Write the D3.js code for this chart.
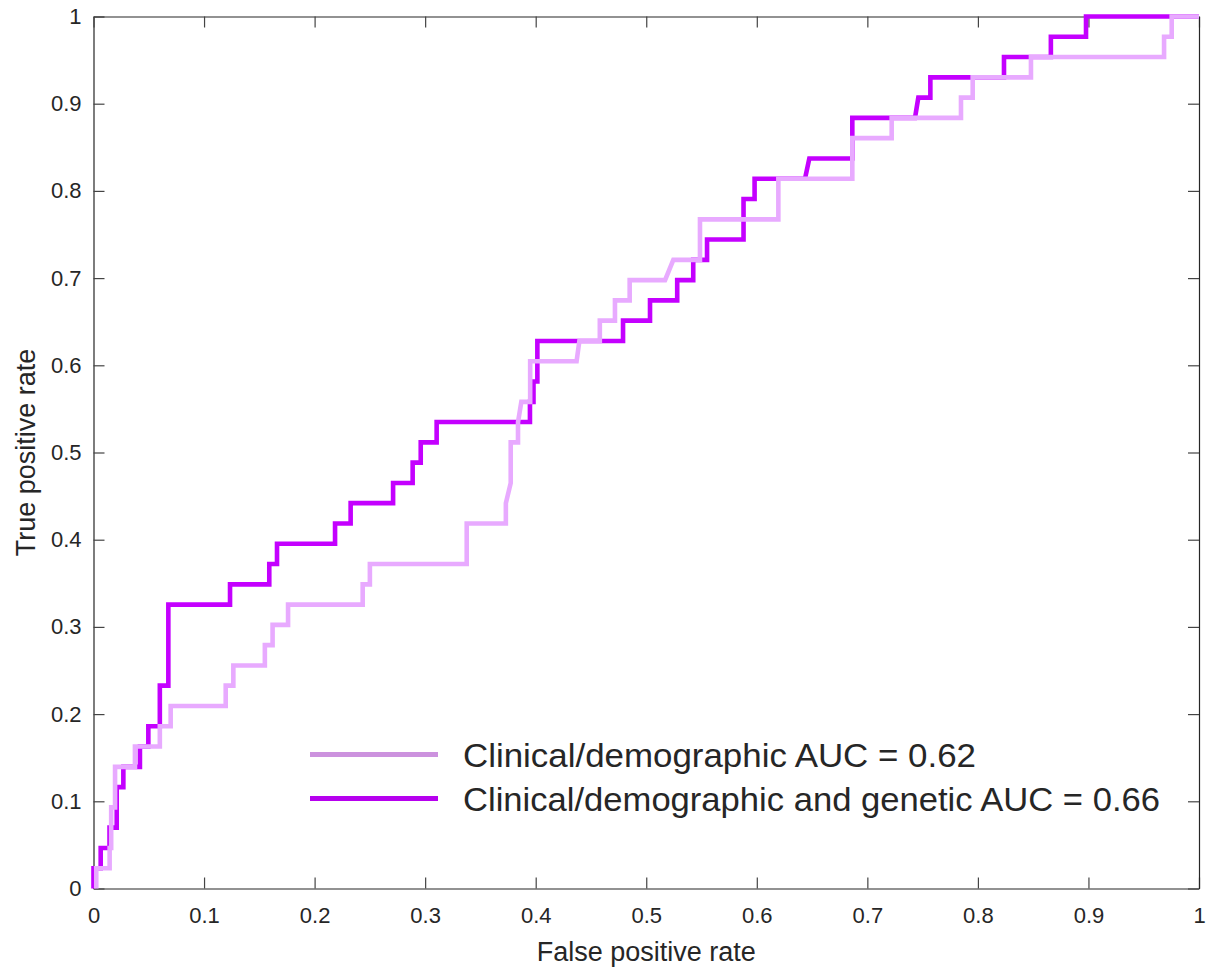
<!DOCTYPE html>
<html>
<head>
<meta charset="utf-8">
<script src="https://cdn.jsdelivr.net/npm/d3@7"></script>
<style>
  html, body { margin: 0; padding: 0; background: #fff; }
  svg { display: block; font-family: "Liberation Sans", Arial, Helvetica, sans-serif; }
</style>
</head>
<body>
<svg id="chart" width="1208" height="969"></svg>
<script>
// ROC curve vertices (false positive rate, true positive rate)
const clinicalFpr = [0.0025, 0.0025, 0.0146, 0.0146, 0.016, 0.016, 0.0195, 0.0195, 0.0375, 0.0375, 0.060, 0.060,
  0.0698, 0.0698, 0.1196, 0.1196, 0.1265, 0.1265, 0.155, 0.155, 0.162, 0.162, 0.176, 0.176, 0.2435, 0.2435,
  0.250, 0.250, 0.3376, 0.3376, 0.373, 0.373, 0.3774, 0.3774, 0.384, 0.384, 0.387, 0.395, 0.395, 0.437, 0.4395,
  0.458, 0.458, 0.4717, 0.4717, 0.485, 0.485, 0.517, 0.5245, 0.5486, 0.5486, 0.6195, 0.6195, 0.6864, 0.6864,
  0.722, 0.722, 0.7847, 0.7847, 0.7953, 0.7953, 0.848, 0.848, 0.9684, 0.9684, 0.9753, 0.9753, 1];
const clinicalTpr = [0, 0.0233, 0.0233, 0.0465, 0.0465, 0.093, 0.093, 0.1395, 0.1395, 0.1628, 0.1628, 0.186,
  0.186, 0.2093, 0.2093, 0.2326, 0.2326, 0.2558, 0.2558, 0.2791, 0.2791, 0.3023, 0.3023, 0.3256, 0.3256, 0.3488,
  0.3488, 0.3721, 0.3721, 0.4186, 0.4186, 0.4419, 0.4651, 0.5116, 0.5116, 0.5349, 0.5581, 0.5581, 0.6047, 0.6047, 0.6279,
  0.6279, 0.6512, 0.6512, 0.6744, 0.6744, 0.6977, 0.6977, 0.7209, 0.7209, 0.7674, 0.7674, 0.814, 0.814, 0.8605,
  0.8605, 0.8837, 0.8837, 0.907, 0.907, 0.9302, 0.9302, 0.9535, 0.9535, 0.9767, 0.9767, 1, 1];

const geneticFpr = [0, 0, 0.0065, 0.0065, 0.0145, 0.0145, 0.021, 0.021, 0.027, 0.027, 0.042, 0.042, 0.0496, 0.0496,
  0.060, 0.060, 0.0677, 0.0677, 0.1235, 0.1235, 0.159, 0.159, 0.166, 0.166, 0.2185, 0.2185, 0.2326, 0.2326,
  0.271, 0.271, 0.2887, 0.2887, 0.296, 0.296, 0.3104, 0.3104, 0.3948, 0.3948, 0.398, 0.398, 0.4015, 0.4015,
  0.479, 0.479, 0.5034, 0.5034, 0.528, 0.528, 0.5425, 0.5425, 0.555, 0.555, 0.588, 0.588, 0.598, 0.598,
  0.6436, 0.6475, 0.6864, 0.6864, 0.7431, 0.7461, 0.757, 0.757, 0.8236, 0.8236, 0.866, 0.866, 0.8978, 0.8978, 1];
const geneticTpr = [0, 0.0233, 0.0233, 0.0465, 0.0465, 0.0698, 0.0698, 0.1163, 0.1163, 0.1395, 0.1395, 0.1628,
  0.1628, 0.186, 0.186, 0.2326, 0.2326, 0.3256, 0.3256, 0.3488, 0.3488, 0.3721, 0.3721, 0.3953, 0.3953, 0.4186,
  0.4186, 0.4419, 0.4419, 0.4651, 0.4651, 0.4884, 0.4884, 0.5116, 0.5116, 0.5349, 0.5349, 0.5581, 0.5581, 0.5814,
  0.5814, 0.6279, 0.6279, 0.6512, 0.6512, 0.6744, 0.6744, 0.6977, 0.6977, 0.7209, 0.7209, 0.7442, 0.7442, 0.7907,
  0.7907, 0.814, 0.814, 0.8372, 0.8372, 0.8837, 0.8837, 0.907, 0.907, 0.9302, 0.9302, 0.9535, 0.9535, 0.9767,
  0.9767, 1, 1];

const seriesNames = ["Clinical/demographic AUC = 0.62", "Clinical/demographic and genetic AUC = 0.66"];
const tickValues = [0, 0.1, 0.2, 0.3, 0.4, 0.5, 0.6, 0.7, 0.8, 0.9, 1];
const tickLabels = ["0", "0.1", "0.2", "0.3", "0.4", "0.5", "0.6", "0.7", "0.8", "0.9", "1"];

const colors = { clinical: "#e8aaff", genetic: "#c400ff", clinicalKey: "#cc92de", geneticKey: "#b600ee" };
const ink = "#262626";

const svg = d3.select("#chart");
const plotLeft = 93.5, plotRight = 1199, plotTop = 16.5, plotBottom = 888.5;

const x = d3.scaleLinear().domain([0, 1]).range([plotLeft, plotRight]);
const y = d3.scaleLinear().domain([0, 1]).range([plotBottom, plotTop]);

// Axes with inward ticks on all four sides
const fmt = (d, i) => tickLabels[i];
const gx = svg.append("g").attr("transform", `translate(0,${plotBottom})`)
  .call(d3.axisBottom(x).tickValues(tickValues).tickFormat(fmt).tickSizeInner(-11).tickSizeOuter(0).tickPadding(19));
const gy = svg.append("g").attr("transform", `translate(${plotLeft},0)`)
  .call(d3.axisLeft(y).tickValues(tickValues).tickFormat(fmt).tickSizeInner(-11).tickSizeOuter(0).tickPadding(12));
const gt = svg.append("g").attr("transform", `translate(0,${plotTop})`)
  .call(d3.axisTop(x).tickValues(tickValues).tickFormat("").tickSizeInner(-11).tickSizeOuter(0));
const gr = svg.append("g").attr("transform", `translate(${plotRight},0)`)
  .call(d3.axisRight(y).tickValues(tickValues).tickFormat("").tickSizeInner(-11).tickSizeOuter(0));

[gx, gy, gt, gr].forEach(g => {
  g.select(".domain").attr("stroke", ink).attr("stroke-width", 1.2);
  g.selectAll(".tick line").attr("stroke", "#444").attr("stroke-width", 1.2);
  g.selectAll(".tick text").attr("fill", ink).style("font-size", "22px")
    .style("font-family", "'Liberation Sans', Arial, sans-serif");
});

// Axis titles
svg.append("text")
  .attr("x", (plotLeft + plotRight) / 2).attr("y", 961)
  .attr("text-anchor", "middle").attr("fill", ink)
  .style("font-size", "27px")
  .text("False positive rate");
svg.append("text")
  .attr("transform", `translate(35,${(plotTop + plotBottom) / 2}) rotate(-90)`)
  .attr("text-anchor", "middle").attr("fill", ink)
  .style("font-size", "27px")
  .text("True positive rate");

// ROC curves
const line = d3.line().x(d => x(d[0])).y(d => y(d[1]));
const geneticPts = d3.zip(geneticFpr, geneticTpr);
const clinicalPts = d3.zip(clinicalFpr, clinicalTpr);

svg.append("path").datum(geneticPts)
  .attr("d", line).attr("fill", "none")
  .attr("stroke", colors.genetic).attr("stroke-width", 4.6)
  .attr("stroke-linejoin", "miter");
svg.append("path").datum(clinicalPts)
  .attr("d", line).attr("fill", "none")
  .attr("stroke", colors.clinical).attr("stroke-width", 4.6)
  .attr("stroke-linejoin", "miter");

// Legend
const legend = svg.append("g");
const keyColors = [colors.clinicalKey, colors.geneticKey];
const textWidths = [513, 697];
seriesNames.forEach((name, i) => {
  const ly = 754.5 + i * 44;
  legend.append("line")
    .attr("x1", 310).attr("x2", 438).attr("y1", ly).attr("y2", ly)
    .attr("stroke", keyColors[i]).attr("stroke-width", 5);
  legend.append("text")
    .attr("x", 463).attr("y", ly).attr("dy", "0.36em")
    .attr("fill", ink)
    .attr("textLength", textWidths[i]).attr("lengthAdjust", "spacingAndGlyphs")
    .style("font-size", "34px")
    .text(name);
});
</script>
</body>
</html>
